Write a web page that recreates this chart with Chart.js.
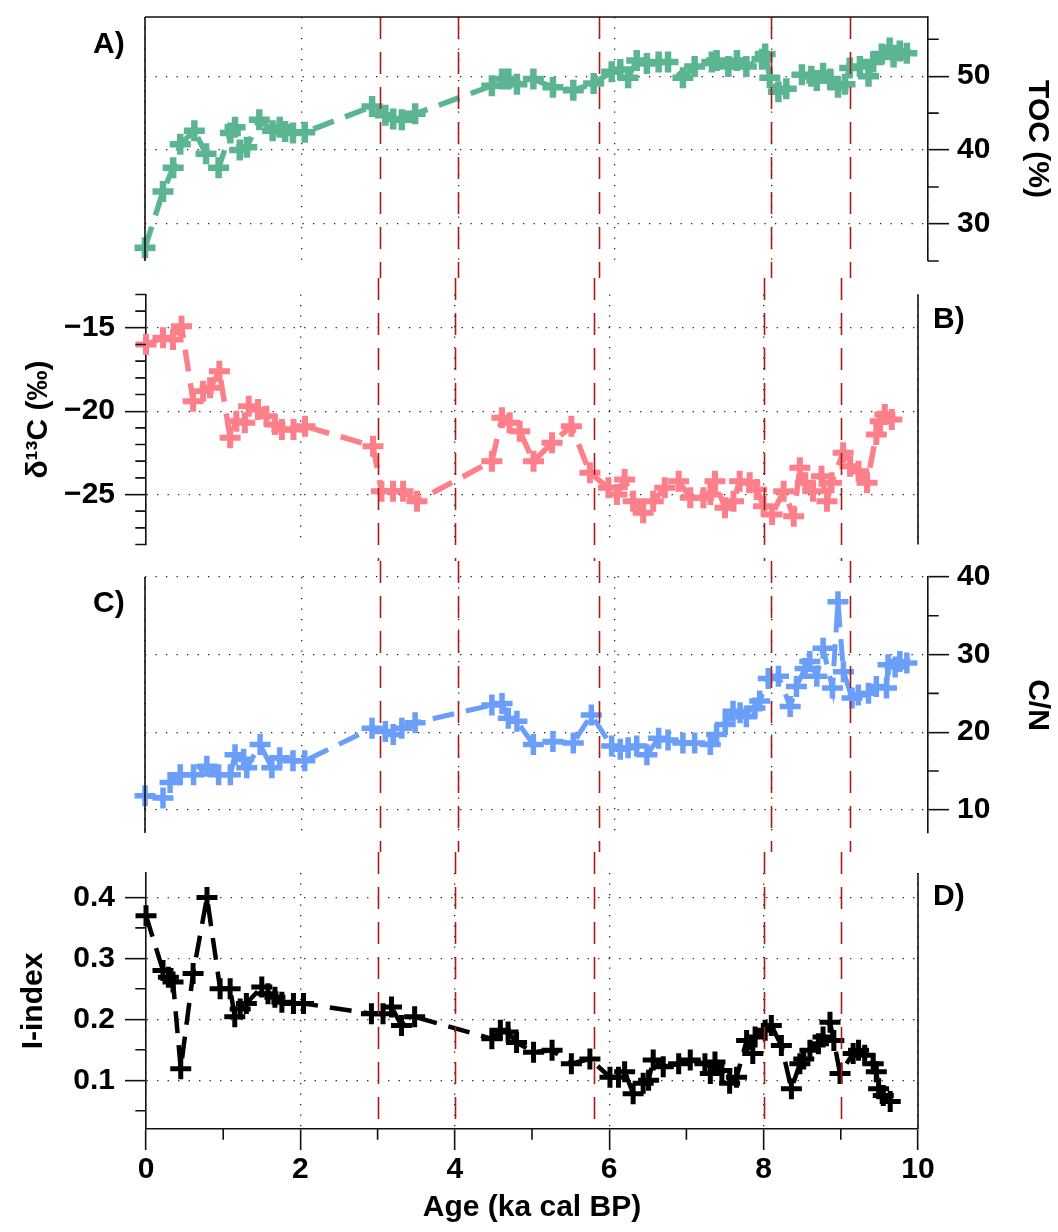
<!DOCTYPE html>
<html>
<head>
<meta charset="utf-8">
<script src="https://cdn.jsdelivr.net/npm/chart.js@4.4.1/dist/chart.umd.min.js"></script>
<style>
  html, body { margin: 0; padding: 0; background: #fff; }
  #wrap { position: relative; width: 1058px; height: 1232px; }
  .panel { position: absolute; left: 0; width: 1058px; }
  .panel canvas { display: block; }
</style>
</head>
<body>
<div id="wrap">
  <div class="panel" style="top:0px;height:278px"><canvas id="cA" width="1058" height="278"></canvas></div>
  <div class="panel" style="top:278px;height:283px"><canvas id="cB" width="1058" height="283"></canvas></div>
  <div class="panel" style="top:561px;height:291px"><canvas id="cC" width="1058" height="291"></canvas></div>
  <div class="panel" style="top:852px;height:380px"><canvas id="cD" width="1058" height="380"></canvas></div>
</div>
<script>
'use strict';

// ── Shared age axis ───────────────────────────────────────────────────────────
const AGE_TICKS  = [0, 2, 4, 6, 8, 10];
const AGE_MINOR  = [1, 3, 5, 7, 9];
const EVENT_AGES = [3, 4, 5.8, 8, 9];

// ── A) TOC (%) ────────────────────────────────────────────────────────────────
const TOC_AGE = [0.00, 0.23, 0.36, 0.45, 0.63, 0.78, 0.94, 1.09, 1.15, 1.21, 1.30, 1.46,
  1.63, 1.72, 1.79, 1.89, 2.04, 2.90, 3.07, 3.17, 3.28, 3.45, 4.43, 4.56, 4.64, 4.75,
  4.96, 5.21, 5.47, 5.73, 5.96, 6.07, 6.17, 6.28, 6.41, 6.56, 6.68, 6.87, 7.02, 7.24,
  7.30, 7.45, 7.56, 7.68, 7.88, 7.92, 7.98, 8.09, 8.19, 8.39, 8.51, 8.58, 8.66, 8.75,
  8.85, 8.94, 9.00, 9.13, 9.24, 9.30, 9.41, 9.51, 9.56, 9.64, 9.73];
const TOC = [26.8, 34.4, 37.6, 40.8, 42.6, 39.5, 37.6, 42.3, 43.1, 40.0, 40.4, 44.1,
  42.6, 43.1, 42.5, 42.3, 42.4, 45.9, 44.7, 44.2, 44.1, 44.9, 48.7, 49.6, 49.6, 48.9,
  49.6, 48.5, 48.1, 49.0, 50.6, 50.9, 49.8, 52.1, 51.7, 51.9, 51.9, 49.8, 51.3, 51.9,
  52.1, 51.3, 52.1, 51.3, 52.3, 53.0, 49.8, 47.9, 48.3, 50.2, 50.0, 49.4, 50.4, 49.6,
  48.5, 48.9, 51.1, 51.3, 50.0, 51.9, 53.0, 53.8, 52.6, 53.4, 53.1];
const TOC_TICKS = [30, 40, 50];
const TOC_MINOR = [25, 35, 45, 55];

// ── B) δ13C (‰) ───────────────────────────────────────────────────────────────
const D13C_AGE = [0.00, 0.22, 0.35, 0.46, 0.61, 0.74, 0.83, 0.95, 1.09, 1.17, 1.28, 1.33,
  1.45, 1.56, 1.67, 1.76, 1.91, 2.06, 2.94, 3.05, 3.20, 3.33, 3.51, 4.48, 4.61, 4.71,
  4.84, 5.02, 5.26, 5.51, 5.75, 5.99, 6.10, 6.20, 6.31, 6.44, 6.57, 6.72, 6.90, 7.05,
  7.22, 7.31, 7.37, 7.50, 7.61, 7.69, 7.82, 7.91, 8.00, 8.11, 8.26, 8.39, 8.47, 8.54,
  8.64, 8.75, 8.82, 8.88, 9.03, 9.12, 9.23, 9.34, 9.46, 9.51, 9.57, 9.66];
const D13C = [-16.0, -15.6, -15.7, -14.9, -19.4, -18.8, -18.6, -17.6, -21.6, -20.6, -20.7, -19.7,
  -19.9, -20.3, -20.8, -21.1, -21.1, -20.9, -22.1, -24.8, -24.8, -24.8, -25.4, -23.0, -20.4, -20.7,
  -21.2, -23.0, -21.9, -20.9, -23.7, -24.6, -25.0, -24.1, -25.4, -26.1, -25.4, -24.6, -24.2, -25.2,
  -25.2, -25.0, -24.2, -25.8, -25.4, -24.2, -24.3, -24.7, -25.7, -26.2, -24.8, -26.3, -23.4, -24.3,
  -24.8, -23.9, -25.4, -24.3, -22.5, -23.3, -23.6, -24.3, -21.4, -20.6, -20.2, -20.5];
const D13C_TICKS = [-25, -20, -15];
const D13C_MINOR = [-28, -27, -26, -24, -23, -22, -21, -19, -18, -17, -16, -14, -13];

// ── C) C/N ────────────────────────────────────────────────────────────────────
const CN_AGE = [0.00, 0.23, 0.32, 0.45, 0.62, 0.79, 0.94, 1.09, 1.15, 1.26, 1.30, 1.47,
  1.62, 1.72, 1.89, 2.04, 2.90, 3.07, 3.17, 3.28, 3.45, 4.43, 4.56, 4.64, 4.75, 4.96,
  5.21, 5.47, 5.70, 5.96, 6.07, 6.17, 6.28, 6.41, 6.56, 6.68, 6.87, 7.02, 7.22, 7.30,
  7.41, 7.51, 7.60, 7.68, 7.79, 7.85, 7.96, 8.09, 8.24, 8.32, 8.43, 8.49, 8.58, 8.66,
  8.78, 8.85, 8.92, 9.03, 9.11, 9.24, 9.34, 9.47, 9.49, 9.58, 9.64, 9.73];
const CN = [11.8, 11.5, 13.5, 14.5, 14.5, 15.6, 14.5, 14.5, 17.1, 16.5, 15.4, 18.4,
  15.4, 16.7, 16.3, 16.3, 20.5, 20.1, 19.7, 20.5, 21.2, 23.5, 23.7, 21.8, 21.4, 18.4,
  18.8, 18.6, 22.2, 18.2, 17.8, 18.0, 18.2, 17.1, 19.2, 19.0, 18.6, 18.6, 18.4, 19.7,
  21.0, 22.7, 22.5, 22.0, 23.1, 24.0, 26.9, 27.2, 23.3, 25.9, 28.2, 29.1, 27.2, 30.8,
  25.7, 36.8, 27.8, 24.4, 24.8, 25.0, 25.9, 25.7, 28.7, 28.4, 29.1, 28.9];
const CN_TICKS = [10, 20, 30, 40];
const CN_MINOR = [15, 25, 35];

// ── D) I-index ────────────────────────────────────────────────────────────────
const IDX_AGE = [0.00, 0.22, 0.29, 0.35, 0.45, 0.61, 0.79, 0.96, 1.09, 1.15, 1.22, 1.30,
  1.50, 1.58, 1.67, 1.76, 1.91, 2.04, 2.92, 3.07, 3.18, 3.31, 3.48, 4.48, 4.59, 4.69,
  4.80, 5.02, 5.26, 5.51, 5.75, 6.01, 6.12, 6.20, 6.31, 6.44, 6.51, 6.57, 6.70, 6.90,
  7.05, 7.24, 7.31, 7.37, 7.46, 7.56, 7.65, 7.78, 7.86, 7.89, 8.02, 8.10, 8.23, 8.36,
  8.47, 8.52, 8.60, 8.71, 8.77, 8.86, 8.91, 8.99, 9.16, 9.23, 9.31, 9.42, 9.46, 9.49,
  9.55, 9.64];
const IDX = [0.370, 0.280, 0.269, 0.261, 0.119, 0.275, 0.400, 0.250, 0.250, 0.204, 0.217, 0.226,
  0.253, 0.242, 0.236, 0.228, 0.226, 0.226, 0.209, 0.209, 0.220, 0.190, 0.204, 0.168, 0.182, 0.179,
  0.162, 0.146, 0.149, 0.127, 0.135, 0.105, 0.105, 0.114, 0.078, 0.095, 0.100, 0.133, 0.122, 0.127,
  0.133, 0.127, 0.111, 0.130, 0.116, 0.095, 0.105, 0.165, 0.144, 0.171, 0.182, 0.190, 0.157, 0.086,
  0.127, 0.135, 0.149, 0.160, 0.171, 0.195, 0.165, 0.111, 0.144, 0.149, 0.141, 0.127, 0.114, 0.086,
  0.075, 0.065];
const IDX_TICKS = [0.1, 0.2, 0.3, 0.4];
const IDX_MINOR = [0.05, 0.15, 0.25, 0.35];

// ── Styling ───────────────────────────────────────────────────────────────────
const FONT       = 'Liberation Sans';
const BIG_FONT   = { family: FONT, size: 30, weight: 'bold', lineHeight: 1.2 };
const GRID_COLOR = '#222';
const GRID_DASH  = [1.3, 9.2];
const AXIS_COLOR = '#111';
const EVENT_COLOR = 'rgb(168, 28, 22)';
const TICK_LEN   = 21;
const MINOR_LEN  = 10.7;

// ── Decoration plugin: event lines, box sides, minor ticks, panel letters ────
const decor = {
  id: 'decor',
  afterDatasetsDraw(chart, args, o) {
    const { ctx, chartArea: a, scales: { x } } = chart;
    const y0 = o.eventTop ? a.top : 0;
    const y1 = o.eventBottom ? a.bottom : chart.height;
    ctx.save();
    ctx.strokeStyle = EVENT_COLOR;
    ctx.lineWidth = 1.6;
    ctx.setLineDash([22, 13]);
    EVENT_AGES.forEach(v => {
      const px = Math.round(x.getPixelForValue(v)) + 0.5;
      ctx.beginPath();
      ctx.moveTo(px, y0);
      ctx.lineTo(px, y1);
      ctx.stroke();
    });
    ctx.restore();
  },
  afterDraw(chart, args, o) {
    const { ctx, chartArea: a, scales: { x, y } } = chart;
    ctx.save();
    ctx.strokeStyle = AXIS_COLOR;
    ctx.lineWidth = 1.6;
    ctx.setLineDash([]);
    ctx.beginPath();
    (o.sides || []).forEach(s => {
      if (s === 'top')   { ctx.moveTo(a.left, a.top); ctx.lineTo(a.right, a.top); }
      if (s === 'left')  { ctx.moveTo(a.left, a.top); ctx.lineTo(a.left, a.bottom); }
      if (s === 'right') { ctx.moveTo(a.right, a.top); ctx.lineTo(a.right, a.bottom); }
    });
    // minor ticks on the value axis
    (o.minor || []).forEach(v => {
      const py = y.getPixelForValue(v);
      if (y.position === 'right') { ctx.moveTo(y.left, py); ctx.lineTo(y.left + MINOR_LEN, py); }
      else { ctx.moveTo(y.right - MINOR_LEN, py); ctx.lineTo(y.right, py); }
    });
    // minor ticks on the age axis (bottom panel only)
    (o.xMinor || []).forEach(v => {
      const px = x.getPixelForValue(v);
      ctx.moveTo(px, x.top);
      ctx.lineTo(px, x.top + MINOR_LEN);
    });
    ctx.stroke();

    ctx.fillStyle = '#000';
    ctx.font = 'bold 30px "' + FONT + '"';
    ctx.textBaseline = 'middle';
    ctx.textAlign = 'left';
    const lx = o.labelSide === 'left' ? a.left - 52 : a.right + 15;
    ctx.fillText(o.label, lx, a.top + o.labelDy);
    ctx.restore();
  }
};

// ── Axis builders ─────────────────────────────────────────────────────────────
function zeroPad(s) {
  s.paddingTop = 0; s.paddingBottom = 0; s.paddingLeft = 0; s.paddingRight = 0;
}

function ageAxis(showLabels, boxHeight) {
  return {
    type: 'linear', position: 'bottom', min: 0, max: 10,
    afterBuildTicks: s => { s.ticks = AGE_TICKS.map(v => ({ value: v })); },
    afterFit: s => { s.height = boxHeight; zeroPad(s); },
    ticks: { display: showLabels, font: BIG_FONT, color: '#000', padding: 2, maxRotation: 0,
             callback: v => String(v) },
    grid: { color: GRID_COLOR, lineWidth: 1.3, drawTicks: showLabels, tickLength: TICK_LEN,
            tickColor: AXIS_COLOR, tickWidth: 1.6 },
    border: { display: showLabels, color: AXIS_COLOR, width: 1.6, dash: GRID_DASH },
    title: { display: showLabels, text: 'Age (ka cal BP)', font: BIG_FONT, color: '#000',
             padding: { top: 0, bottom: 6 } }
  };
}

function valueAxis(pos, min, max, ticks, fmt, title, titlePad) {
  return {
    type: 'linear', position: pos, min: min, max: max,
    afterBuildTicks: s => { s.ticks = ticks.map(v => ({ value: v })); },
    afterFit: s => { s.width = pos === 'left' ? 146 : 130; zeroPad(s); },
    ticks: { font: BIG_FONT, color: '#000', padding: pos === 'left' ? 10 : 8, callback: fmt },
    grid: { color: GRID_COLOR, lineWidth: 1.3, tickLength: TICK_LEN,
            tickColor: AXIS_COLOR, tickWidth: 1.6 },
    border: { display: true, color: AXIS_COLOR, width: 1.6, dash: GRID_DASH },
    title: { display: true, text: title, font: BIG_FONT, color: '#000',
             padding: { top: titlePad, bottom: 0 } }
  };
}

function series(ages, values, color, lineWidth, markWidth) {
  return {
    data: ages.map((a, i) => ({ x: a, y: values[i] })),
    borderColor: color,
    backgroundColor: color,
    borderWidth: lineWidth,
    borderDash: [22, 12],
    tension: 0,
    pointStyle: 'cross',
    pointRadius: 10.5,
    pointBorderWidth: markWidth,
    pointBorderColor: color,
    pointBackgroundColor: color,
    clip: false
  };
}

function makePanel(id, cfg) {
  return new Chart(document.getElementById(id), {
    type: 'line',
    data: { datasets: [cfg.dataset] },
    options: {
      responsive: false,
      animation: false,
      events: [],
      layout: { padding: cfg.padding },
      scales: { x: cfg.x, y: cfg.y },
      plugins: { legend: { display: false }, tooltip: { enabled: false }, decor: cfg.decor }
    },
    plugins: [decor]
  });
}

const minusFmt = v => (v < 0 ? '\u2212' + Math.abs(v) : String(v));

// ── Build the four panels ─────────────────────────────────────────────────────
makePanel('cA', {
  dataset: series(TOC_AGE, TOC, '#5bb592', 5.5, 6.5),
  padding: { top: 7, bottom: 13, left: 145, right: 0 },
  x: ageAxis(false, 0),
  y: valueAxis('right', 25, 58, TOC_TICKS, v => String(v), 'TOC (%)', 3),
  decor: { label: 'A)', labelSide: 'left', labelDy: 28, sides: ['top', 'left'],
           minor: TOC_MINOR, eventTop: true }
});

makePanel('cB', {
  dataset: series(D13C_AGE, D13C, '#fc7f8a', 5.5, 6),
  padding: { top: 13, bottom: 13, left: 0, right: 140 },
  x: ageAxis(false, 0),
  y: valueAxis('left', -28, -13, D13C_TICKS, minusFmt, '\u03b4\u00b9\u00b3C (\u2030)', 21),
  decor: { label: 'B)', labelSide: 'right', labelDy: 25, sides: ['right'], minor: D13C_MINOR }
});

makePanel('cC', {
  dataset: series(CN_AGE, CN, '#6a9ef8', 5, 5.5),
  padding: { top: 14, bottom: 19, left: 145, right: 0 },
  x: ageAxis(false, 0),
  y: valueAxis('right', 7, 40, CN_TICKS, v => String(v), 'C/N', 3),
  decor: { label: 'C)', labelSide: 'left', labelDy: 27, sides: ['left'], minor: CN_MINOR }
});

makePanel('cD', {
  dataset: series(IDX_AGE, IDX, '#000000', 4.5, 5),
  padding: { top: 21, bottom: 0, left: 0, right: 140 },
  x: ageAxis(true, 103),
  y: valueAxis('left', 0.02, 0.44, IDX_TICKS, v => v.toFixed(1), 'I-index', 16),
  decor: { label: 'D)', labelSide: 'right', labelDy: 24, sides: ['right'], minor: IDX_MINOR,
           xMinor: AGE_MINOR, eventBottom: true }
});
</script>
</body>
</html>
